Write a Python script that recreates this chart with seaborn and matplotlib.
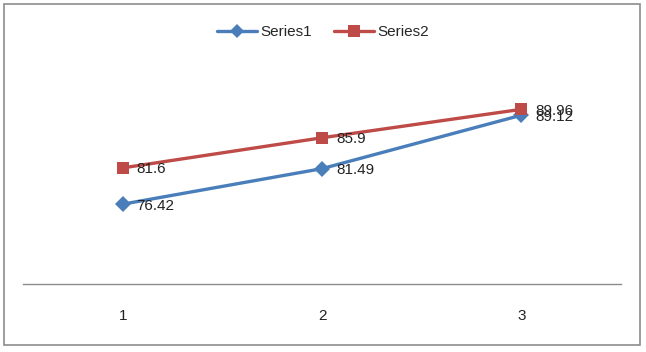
import numpy as np
import pandas as pd
import matplotlib
matplotlib.use("Agg")
import matplotlib.pyplot as plt
import seaborn as sns
from matplotlib.lines import Line2D

categories = [1, 2, 3]
series1 = [76.42, 81.49, 89.12]
series2 = [81.6, 85.9, 89.96]
labels1 = ["76.42", "81.49", "89.12"]
labels2 = ["81.6", "85.9", "89.96"]

df = pd.DataFrame({
    "x": categories * 2,
    "y": series1 + series2,
    "series": ["Series1"] * 3 + ["Series2"] * 3,
})

sns.set_theme(style="white")
plt.rcParams["font.family"] = ["Liberation Sans", "DejaVu Sans"]

fig = plt.figure(figsize=(6.46, 3.52), dpi=100)
ax = fig.add_axes([0.036, 0.193, 0.925, 0.696])

colors = {"Series1": "#4A7EBB", "Series2": "#BE4B48"}
sns.lineplot(data=df, x="x", y="y", hue="series", style="series",
             markers={"Series1": "D", "Series2": "s"}, dashes=False,
             palette=colors, linewidth=2.4, markersize=8,
             markeredgewidth=0, ax=ax, legend=False)

# data labels, right of each point
for xv, yv, t in zip(categories, series1, labels1):
    ax.annotate(t, (xv, yv), xytext=(10, -1), textcoords="offset points",
                va="center", ha="left", fontsize=11, color="#222222")
for xv, yv, t in zip(categories, series2, labels2):
    ax.annotate(t, (xv, yv), xytext=(10, -1), textcoords="offset points",
                va="center", ha="left", fontsize=11, color="#222222")

ax.set_xlim(0.5, 3.5)
ax.set_ylim(65, 100)
ax.set_xticks(categories)
ax.set_xticklabels([str(c) for c in categories], fontsize=11, color="#222222")
ax.set_yticks([])
ax.set_xlabel("")
ax.set_ylabel("")
ax.tick_params(axis="x", length=0, pad=18)
for s in ["top", "left", "right"]:
    ax.spines[s].set_visible(False)
ax.spines["bottom"].set_color("#8c8c8c")
ax.spines["bottom"].set_linewidth(1.0)

handles = [
    Line2D([], [], color=colors["Series1"], marker="D", markersize=7, lw=2.4, markeredgewidth=0),
    Line2D([], [], color=colors["Series2"], marker="s", markersize=8, lw=2.4, markeredgewidth=0),
]
fig.legend(handles, ["Series1", "Series2"], loc="center", bbox_to_anchor=(0.5, 0.909),
           ncol=2, frameon=False, fontsize=11, handlelength=2.6,
           handletextpad=0.2, columnspacing=1.5)

# outer chart border
fig.patches.append(plt.Rectangle((0.006, 0.02), 0.985, 0.97, transform=fig.transFigure,
                                 fill=False, edgecolor="#8c8c8c", lw=1.2))

fig.savefig("out.png", dpi=100)
